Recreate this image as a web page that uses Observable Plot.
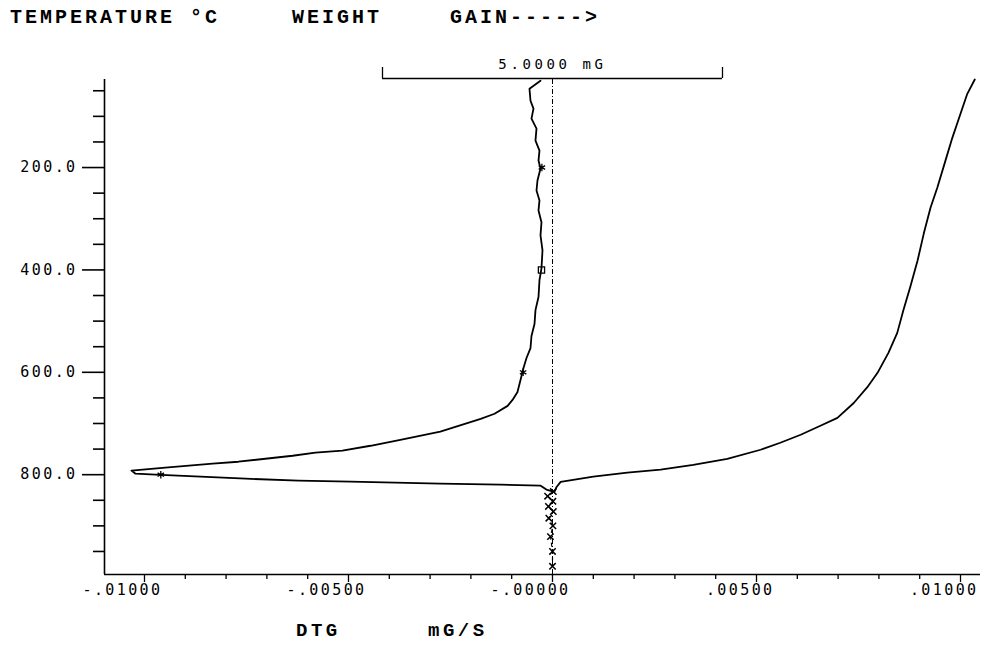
<!DOCTYPE html>
<html>
<head>
<meta charset="utf-8">
<script src="https://cdn.jsdelivr.net/npm/d3@7"></script>
<script src="https://cdn.jsdelivr.net/npm/@observablehq/plot@0.6"></script>
<style>
  html, body { margin: 0; padding: 0; background: #fff; }
  #wrap { width: 984px; height: 665px; position: relative; overflow: hidden; }
  .hdr { height: 40px; position: relative; font-family: "Liberation Mono", "DejaVu Sans Mono", monospace;
         font-weight: bold; font-size: 20px; letter-spacing: 3px; color: #000; }
  .hdr span, .cap span { position: absolute; white-space: pre; }
  .cap { height: 40px; position: relative; font-family: "Liberation Mono", "DejaVu Sans Mono", monospace;
         font-weight: bold; font-size: 19px; letter-spacing: 3.5px; color: #000; }
  svg g[aria-label="y-axis tick label"] text { letter-spacing: 2.4px; }
  svg g[aria-label="x-axis tick label"] text { letter-spacing: 2.4px; }
</style>
</head>
<body>
<div id="wrap">
  <div class="hdr">
    <span style="left:10px; top:6px">TEMPERATURE °C</span>
    <span style="left:292px; top:6px">WEIGHT</span>
    <span style="left:450px; top:6px">GAIN-----&gt;</span>
  </div>
  <div id="chart"></div>
  <div class="cap">
    <span style="left:296px; top:-5px">DTG</span>
    <span style="left:428px; top:-5px">mG/S</span>
  </div>
</div>
<script>
// ---- axes ----
const temperatureDomain = [28, 995];
const temperatureTicks = [200, 400, 600, 800];
const temperatureTickLabels = ["200.0", "400.0", "600.0", "800.0"];
const temperatureMinorTicks = [50, 100, 150, 250, 300, 350, 450, 500, 550, 650, 700, 750, 850, 900, 950];
const dtgDomain = [-0.01098, 0.01049];
const dtgTicks = [-0.01, -0.005, 0, 0.005, 0.01];
const dtgTickLabels = ["-.01000", "-.00500", "-.00000", ".00500", ".01000"];
const dtgMinorTicks = [-0.009, -0.008, -0.007, -0.006, -0.004, -0.003, -0.002, -0.001,
                       0.001, 0.002, 0.003, 0.004, 0.006, 0.007, 0.008, 0.009];

// ---- DTG curve (mG/S) vs temperature (°C) ----
const dtgTemp = [30.5, 46, 69.5, 85, 104.5, 124, 147.4, 167, 186.4, 202, 225.3, 244.8, 264.3, 283.8, 307,
  332.5, 361.7, 396.7, 420, 453, 478.6, 505.8, 529, 552.6, 572, 591.5, 615, 638.3, 654, 665.6, 681, 691,
  716, 731.8, 743.5, 753, 757, 763, 774.7, 778.6, 786.3, 792, 798, 800, 807.8, 811.7, 813.6, 817.5,
  819.5, 821.4, 829, 833];
const dtgValue = [-0.000294, -0.000564, -0.000539, -0.000466, -0.000515, -0.000392, -0.000417, -0.000319,
  -0.000343, -0.000294, -0.000368, -0.000392, -0.000319, -0.000343, -0.00027, -0.000294, -0.000245,
  -0.00027, -0.000319, -0.000343, -0.000417, -0.000441, -0.000515, -0.000539, -0.000637, -0.000711,
  -0.000784, -0.000858, -0.00098, -0.0011, -0.00142, -0.00176, -0.00275, -0.00373, -0.00446, -0.00515,
  -0.00581, -0.00637, -0.0077, -0.00833, -0.00949, -0.01032, -0.01022, -0.00973, -0.00752, -0.00623,
  -0.00495, -0.00275, -0.00127, -0.00029, -0.00015, 0.00002];
// tail section drawn with point glyphs
const dtgTailTemp = [833, 842, 852, 862, 872, 885, 900, 921, 950, 979];
const dtgTailValue = [0.00002, -0.00012, 0.00001, -0.0001, 0.00002, -0.00009, 0.00001, -0.00005, 0, 0];

// temperature markers on the DTG curve
const markerTemp = [200, 400, 600, 800];
const markerValue = [-0.00026, -0.00027, -0.00072, -0.0096];
const markerSymbol = ["asterisk", "square", "asterisk", "asterisk"];

// ---- TG curve (weight, mG above final) vs temperature ----
const tgTemp = [28, 56, 95, 142, 186, 239, 278, 329, 381, 434, 479, 523, 562, 601, 629, 660, 689, 704.5,
  722, 737.6, 751.3, 769, 781, 790, 796, 804, 814, 824, 833];
const tgWeight = [6.21, 6.10, 6.00, 5.88, 5.78, 5.66, 5.56, 5.46, 5.37, 5.26, 5.16, 5.07, 4.94, 4.78, 4.63,
  4.43, 4.19, 3.94, 3.65, 3.35, 3.06, 2.57, 2.07, 1.59, 1.10, 0.60, 0.12, 0.06, 0.03];

// weight scale bracket: 5 mG spans this many DTG-axis units
const bracketMg = 5;
const bracketSpan = 0.008333;
const bracketLabel = ["5.0000 mG"];

const dtgData = dtgTemp.map((t, i) => ({t, v: dtgValue[i]}));
const tailData = dtgTailTemp.map((t, i) => ({t, v: dtgTailValue[i]}));
const markerData = markerTemp.map((t, i) => ({t, v: markerValue[i], s: markerSymbol[i]}));
const tgData = tgTemp.map((t, i) => ({t, v: tgWeight[i] * bracketSpan / bracketMg}));
const half = bracketSpan / 2;
const noLabel = () => "";

const chart = Plot.plot({
  width: 984,
  height: 585,
  marginTop: 39,
  marginBottom: 51,
  marginLeft: 104,
  marginRight: 4,
  style: {fontFamily: "'DejaVu Sans Mono', monospace", fontSize: "15px", color: "#000", background: "#fff"},
  x: {domain: dtgDomain},
  y: {domain: temperatureDomain, reverse: true},
  marks: [
    // axis frame lines
    Plot.ruleX([dtgDomain[0]], {stroke: "#000", strokeWidth: 1.6}),
    Plot.ruleY([temperatureDomain[1]], {stroke: "#000", strokeWidth: 1.6}),
    // axes
    Plot.axisY(temperatureTicks, {anchor: "left", tickSize: 22, tickPadding: 5, strokeWidth: 1.6,
      tickFormat: d => temperatureTickLabels[temperatureTicks.indexOf(d)], label: null, fontSize: 15}),
    Plot.axisY(temperatureMinorTicks, {anchor: "left", tickSize: 11, tickFormat: noLabel, label: null, strokeWidth: 1.6}),
    Plot.axisX(dtgTicks, {anchor: "bottom", tickSize: 8, tickFormat: noLabel, label: null, strokeWidth: 1.3}),
    Plot.axisX(dtgTicks, {anchor: "bottom", tickSize: 0, tickPadding: 10,
      tickFormat: d => dtgTickLabels[dtgTicks.indexOf(d)], label: null, fontSize: 15,
      textAnchor: "end", dx: 18}),
    Plot.axisX(dtgMinorTicks, {anchor: "bottom", tickSize: 5, tickFormat: noLabel, label: null, strokeWidth: 1.3}),
    // zero line
    Plot.ruleX([0], {stroke: "#000", strokeWidth: 1, strokeDasharray: "5,2,1,2"}),
    // weight scale bracket
    Plot.ruleY([temperatureDomain[0]], {x1: -half, x2: half, stroke: "#000", strokeWidth: 1.3, dy: -1}),
    Plot.ruleX([-half, half], {y1: temperatureDomain[0], y2: temperatureDomain[0], insetTop: -11, stroke: "#000", strokeWidth: 1.3, dy: -1}),
    Plot.text(bracketLabel, {x: () => 0, y: () => temperatureDomain[0], text: d => d, dy: -15, dx: 0,
      fontSize: 14, fill: "#000"}),
    // curves
    Plot.line(tgData, {x: "v", y: "t", stroke: "#000", strokeWidth: 1.8}),
    Plot.line(dtgData, {x: "v", y: "t", stroke: "#000", strokeWidth: 1.8}),
    Plot.line(tailData, {x: "v", y: "t", stroke: "#000", strokeWidth: 1.2, strokeDasharray: "3,4"}),
    Plot.dot(tailData, {x: "v", y: "t", symbol: "times", r: 3, stroke: "#000", strokeWidth: 1.5}),
    Plot.dot(markerData, {x: "v", y: "t", symbol: "s", r: 3.5, stroke: "#000", strokeWidth: 1.3, fill: "none"})
  ]
});
// widen the bracket label's letter spacing (plotter lettering)
d3.select(chart).selectAll("text")
  .filter(function () { return this.textContent === bracketLabel[0]; })
  .style("letter-spacing", "3.6px");
document.getElementById("chart").appendChild(chart);
</script>
</body>
</html>
